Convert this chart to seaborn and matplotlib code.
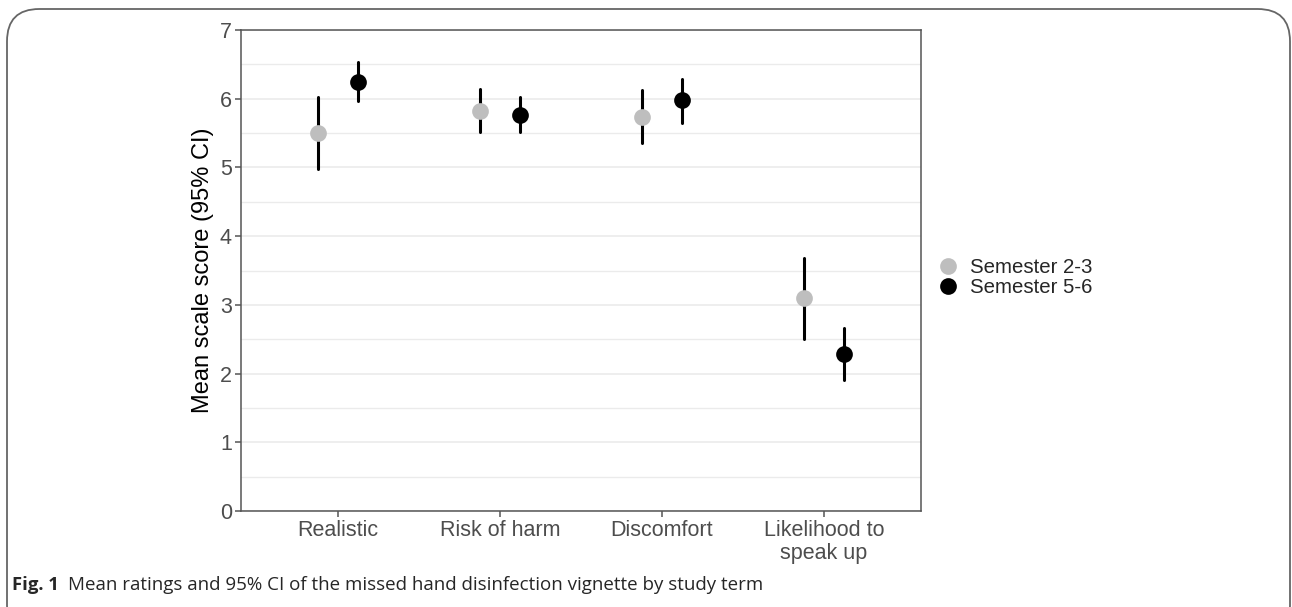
import matplotlib
matplotlib.use("Agg")
import matplotlib.pyplot as plt
from matplotlib.patches import FancyBboxPatch
from matplotlib.ticker import MultipleLocator
import numpy as np
import pandas as pd
import seaborn as sns

categories = ["Realistic", "Risk of harm", "Discomfort", "Likelihood to\nspeak up"]
groups = ["Semester 2-3", "Semester 5-6"]
mean_s23 = [5.50, 5.82, 5.74, 3.10]
lo_s23 = [4.98, 5.52, 5.35, 2.51]
hi_s23 = [6.03, 6.14, 6.12, 3.68]
mean_s56 = [6.25, 5.76, 5.98, 2.28]
lo_s56 = [5.97, 5.52, 5.65, 1.90]
hi_s56 = [6.54, 6.02, 6.28, 2.67]
yticks = [0, 1, 2, 3, 4, 5, 6, 7]
ylabel = "Mean scale score (95% CI)"
caption_bold = "Fig. 1"
caption_text = "Mean ratings and 95% CI of the missed hand disinfection vignette by study term"

rows = []
for g, lo, m, hi in [(groups[0], lo_s23, mean_s23, hi_s23), (groups[1], lo_s56, mean_s56, hi_s56)]:
    for c, a, b, d in zip(categories, lo, m, hi):
        for v in (a, b, d):
            rows.append({"category": c, "group": g, "score": v})
df = pd.DataFrame(rows)

sns.set_theme(style="white")
plt.rcParams["font.family"] = ["Liberation Sans", "DejaVu Sans"]

fig = plt.figure(figsize=(12.92, 6.07), dpi=100)
ax = fig.add_axes([241 / 1292, 1 - 511 / 607, (921 - 241) / 1292, (511 - 30) / 607])

sns.pointplot(
    data=df, x="category", y="score", hue="group", order=categories, hue_order=groups,
    estimator="median", errorbar=lambda v: (v.min(), v.max()),
    palette={groups[0]: "#bebebe", groups[1]: "#000000"},
    dodge=0.25, linestyle="none", markers="o", markersize=10,
    err_kws={"color": "black", "linewidth": 2.2}, ax=ax,
)
for ln in ax.lines:
    if ln.get_marker() not in (None, "None", "", " "):
        ln.set_zorder(5)

ax.set_xlim(-0.6, 3.6)
ax.set_ylim(0, 7)
ax.set_yticks(yticks)
ax.yaxis.set_minor_locator(MultipleLocator(0.5))
ax.grid(axis="y", which="major", color="#ebebeb", linewidth=1.2)
ax.grid(axis="y", which="minor", color="#ebebeb", linewidth=1.0)
ax.grid(axis="x", visible=False)
ax.set_axisbelow(True)
for s in ax.spines.values():
    s.set_color("#555555")
    s.set_linewidth(1.1)
ax.tick_params(axis="both", which="major", length=4, width=1.1, color="#555555",
               labelcolor="#4d4d4d", labelsize=15.5, bottom=True, left=True, pad=2.5)
ax.tick_params(axis="y", which="minor", length=0)
for lab in ax.get_xticklabels():
    lab.set_linespacing(1.1)
ax.set_xlabel("")
ax.set_ylabel(ylabel, fontsize=17, color="black", labelpad=4)

sns.move_legend(ax, loc="center left", bbox_to_anchor=(0.997, 0.485), frameon=False,
                title=None, fontsize=14.7, handlelength=1.0, handletextpad=0.6,
                labelspacing=0.05)

frame = FancyBboxPatch((7 / 1292, -0.05), (1290 - 7) / 1292, (607 - 9) / 607 + 0.05,
                       boxstyle="round,pad=0,rounding_size=0.025", transform=fig.transFigure,
                       facecolor="none", edgecolor="#666666", linewidth=1.3,
                       mutation_aspect=1292 / 607, clip_on=False)
fig.patches.append(frame)

t1 = fig.text(12 / 1292, 1 - 585 / 607, caption_bold, fontsize=13.3, fontweight="bold",
              family=["Open Sans", "DejaVu Sans"], va="center", ha="left")
fig.canvas.draw()
bb = t1.get_window_extent()
fig.text((bb.x1 + 9) / 1292, 1 - 585 / 607, caption_text, fontsize=13.5,
         family=["Open Sans", "DejaVu Sans"], va="center", ha="left")

fig.savefig("out.png", dpi=100)
